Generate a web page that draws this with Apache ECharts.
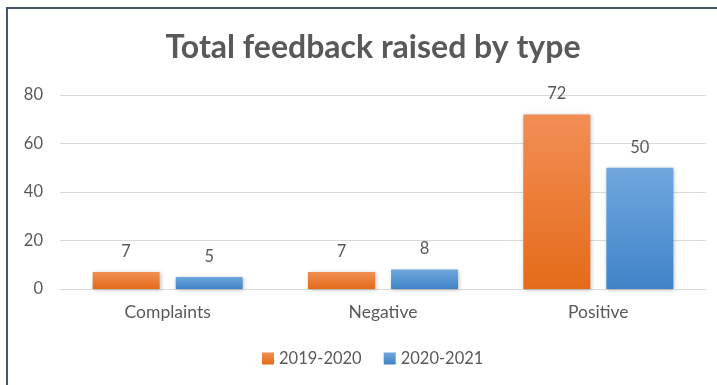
<!DOCTYPE html>
<html>
<head>
<meta charset="utf-8">
<script src="https://cdn.jsdelivr.net/npm/echarts@6/dist/echarts.min.js"></script>
<style>
  html, body { margin: 0; padding: 0; background: #fff; }
  #chart { width: 717px; height: 385px; }
</style>
</head>
<body>
<div id="chart"></div>
<script>
const categories = ['Complaints', 'Negative', 'Positive'];
const seriesNames = ['2019-2020', '2020-2021'];
const values2019 = [7, 7, 72];
const values2020 = [5, 8, 50];

const fontFamily = 'Lato, "Open Sans", sans-serif';
const textColor = '#595959';

function grad(top, bottom) {
  return new echarts.graphic.LinearGradient(0, 0, 0, 1, [
    { offset: 0, color: top },
    { offset: 1, color: bottom }
  ]);
}

const chart = echarts.init(document.getElementById('chart'));
chart.setOption({
  backgroundColor: '#fff',
  animation: false,
  graphic: [{
    type: 'rect',
    shape: { x: 7, y: 8, width: 760, height: 420 },
    style: { fill: 'none', stroke: '#44546A', lineWidth: 2 },
    z: 100
  }],
  title: {
    text: 'Total feedback raised by type',
    left: 368,
    textAlign: 'center',
    top: 27,
    textStyle: { fontFamily, fontSize: 32, fontWeight: 'bold', color: textColor }
  },
  legend: {
    data: seriesNames,
    left: 257,
    top: 345,
    itemWidth: 12,
    itemHeight: 12,
    itemGap: 22,
    icon: 'rect',
    textStyle: { fontFamily, fontSize: 16.5, color: textColor }
  },
  grid: { left: 60, right: 11, top: 95, bottom: 96 },
  xAxis: {
    type: 'category',
    data: categories,
    axisLine: { lineStyle: { color: '#D9D9D9', width: 1 } },
    axisTick: { show: false },
    axisLabel: { fontFamily, fontSize: 17.5, color: textColor, margin: 14 }
  },
  yAxis: {
    type: 'value',
    min: 0,
    max: 80,
    interval: 20,
    axisLine: { show: false },
    axisTick: { show: false },
    splitLine: { lineStyle: { color: '#D9D9D9' } },
    axisLabel: { fontFamily, fontSize: 16.5, color: textColor, margin: 17 }
  },
  series: [
    {
      name: seriesNames[0],
      type: 'bar',
      data: values2019,
      barWidth: 67,
      barGap: '24%',
      itemStyle: {
        color: grad('#F28E55', '#E46B18'),
        shadowColor: 'rgba(0,0,0,0.25)',
        shadowBlur: 4,
        shadowOffsetX: 1,
        shadowOffsetY: 1
      },
      label: { show: true, position: 'top', distance: 12, fontFamily, fontSize: 16.5, color: textColor }
    },
    {
      name: seriesNames[1],
      type: 'bar',
      data: values2020,
      barWidth: 67,
      itemStyle: {
        color: grad('#70A7DD', '#3F84C8'),
        shadowColor: 'rgba(0,0,0,0.25)',
        shadowBlur: 4,
        shadowOffsetX: 1,
        shadowOffsetY: 1
      },
      label: { show: true, position: 'top', distance: 12, fontFamily, fontSize: 16.5, color: textColor }
    }
  ]
});
</script>
</body>
</html>
